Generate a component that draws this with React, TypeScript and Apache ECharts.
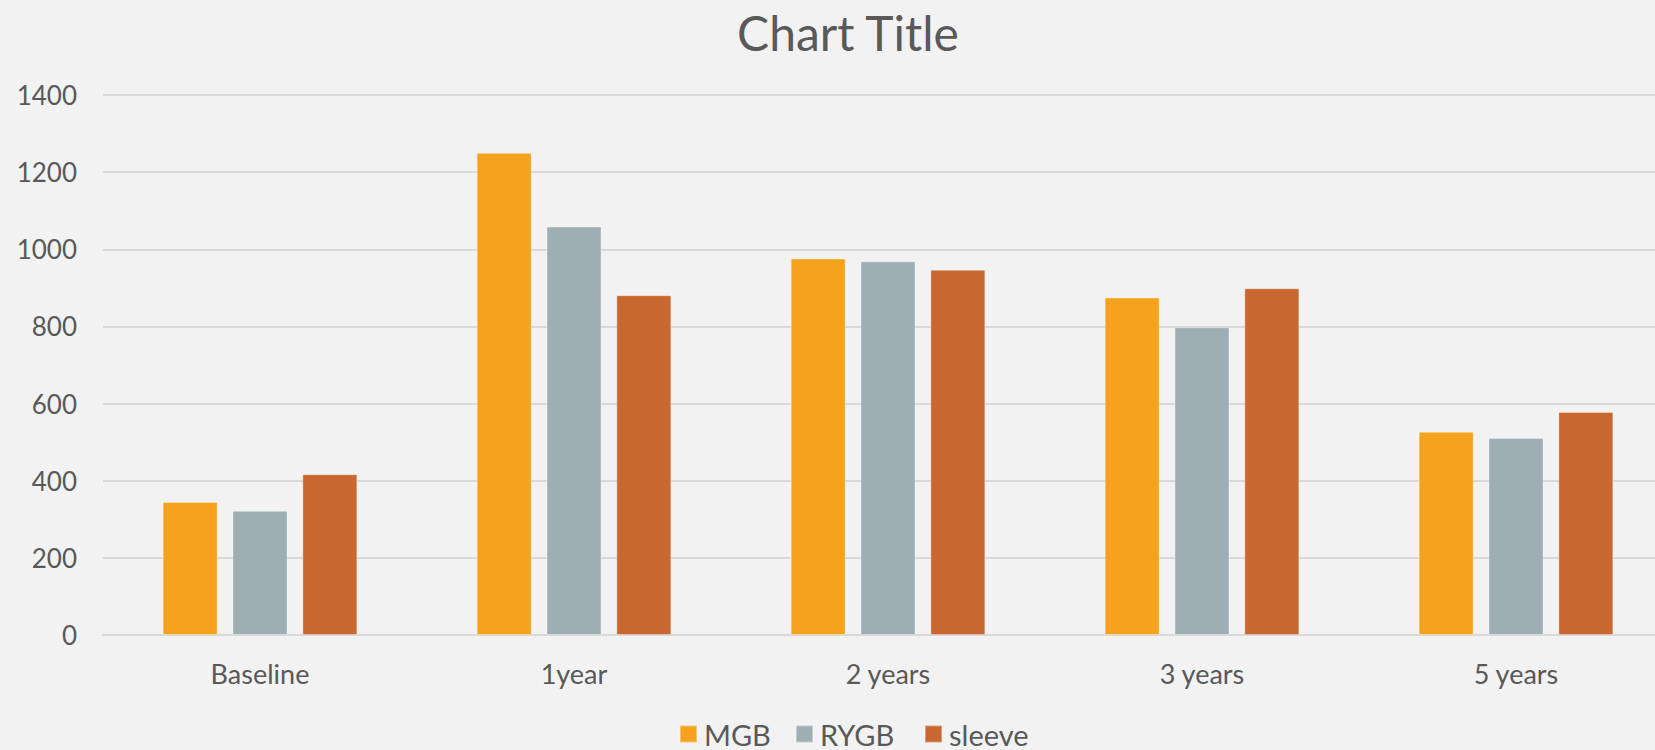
import React, { useEffect, useRef } from "react";
import * as echarts from "echarts";

const categories = ["Baseline", "1year", "2 years", "3 years", "5 years"];
const mgb = [345, 1250, 976, 875, 527];
const rygb = [322, 1059, 969, 798, 511];
const sleeve = [417, 881, 947, 899, 578];
const seriesNames = ["MGB", "RYGB", "sleeve"];
const colors = ["#F5A31F", "#9EAFB4", "#C86730"];
const legendLefts = [679, 795, 924];

const FONT = "Lato, 'Open Sans', sans-serif";
const TEXT = "#595959";

export default function App() {
  const ref = useRef<HTMLDivElement>(null);
  useEffect(() => {
    if (!ref.current) return;
    const chart = echarts.init(ref.current, null, { renderer: "svg" });
    const data = [mgb, rygb, sleeve];
    chart.setOption({
      animation: false,
      backgroundColor: "#F2F2F2",
      title: {
        text: "Chart Title",
        left: 843,
        textAlign: "center",
        top: 3,
        textStyle: { fontFamily: FONT, fontSize: 48, fontWeight: "normal", color: TEXT },
      },
      legend: seriesNames.map((name, i) => ({
        data: [name],
        top: 719,
        left: legendLefts[i],
        itemWidth: 17,
        itemHeight: 17,
        padding: 0,
        icon: "rect",
        textStyle: { fontFamily: FONT, fontSize: 29, color: TEXT, padding: [0, 0, 0, 2], lineHeight: 30 },
      })),
      grid: { left: 103, width: 1570, top: 95, bottom: 115, containLabel: false, outerBoundsMode: "none" },
      xAxis: {
        type: "category",
        data: categories,
        axisLine: { lineStyle: { color: "#D9D9D9", width: 2 } },
        axisTick: { show: false },
        axisLabel: { fontFamily: FONT, fontSize: 27, color: TEXT, margin: 25 },
      },
      yAxis: {
        type: "value",
        min: 0,
        max: 1400,
        interval: 200,
        axisLine: { show: false },
        axisTick: { show: false },
        splitLine: { lineStyle: { color: "#D9D9D9", width: 2 } },
        axisLabel: {
          fontFamily: FONT,
          fontSize: 26,
          color: TEXT,
          margin: 26,
          formatter: (v: number) => String(v),
        },
      },
      series: seriesNames.map((name, i) => ({
        name,
        type: "bar",
        data: data[i],
        barWidth: 55,
        barGap: "27%",
        itemStyle: { color: colors[i], borderColor: "rgba(255,255,255,0.35)", borderWidth: 1 },
      })),
    });
    return () => chart.dispose();
  }, []);
  return (
    <div style={{ width: 1655, height: 750, position: "absolute", left: 0, top: 0, overflow: "hidden" }}>
      <div ref={ref} style={{ width: 1673, height: 750 }} />
    </div>
  );
}
